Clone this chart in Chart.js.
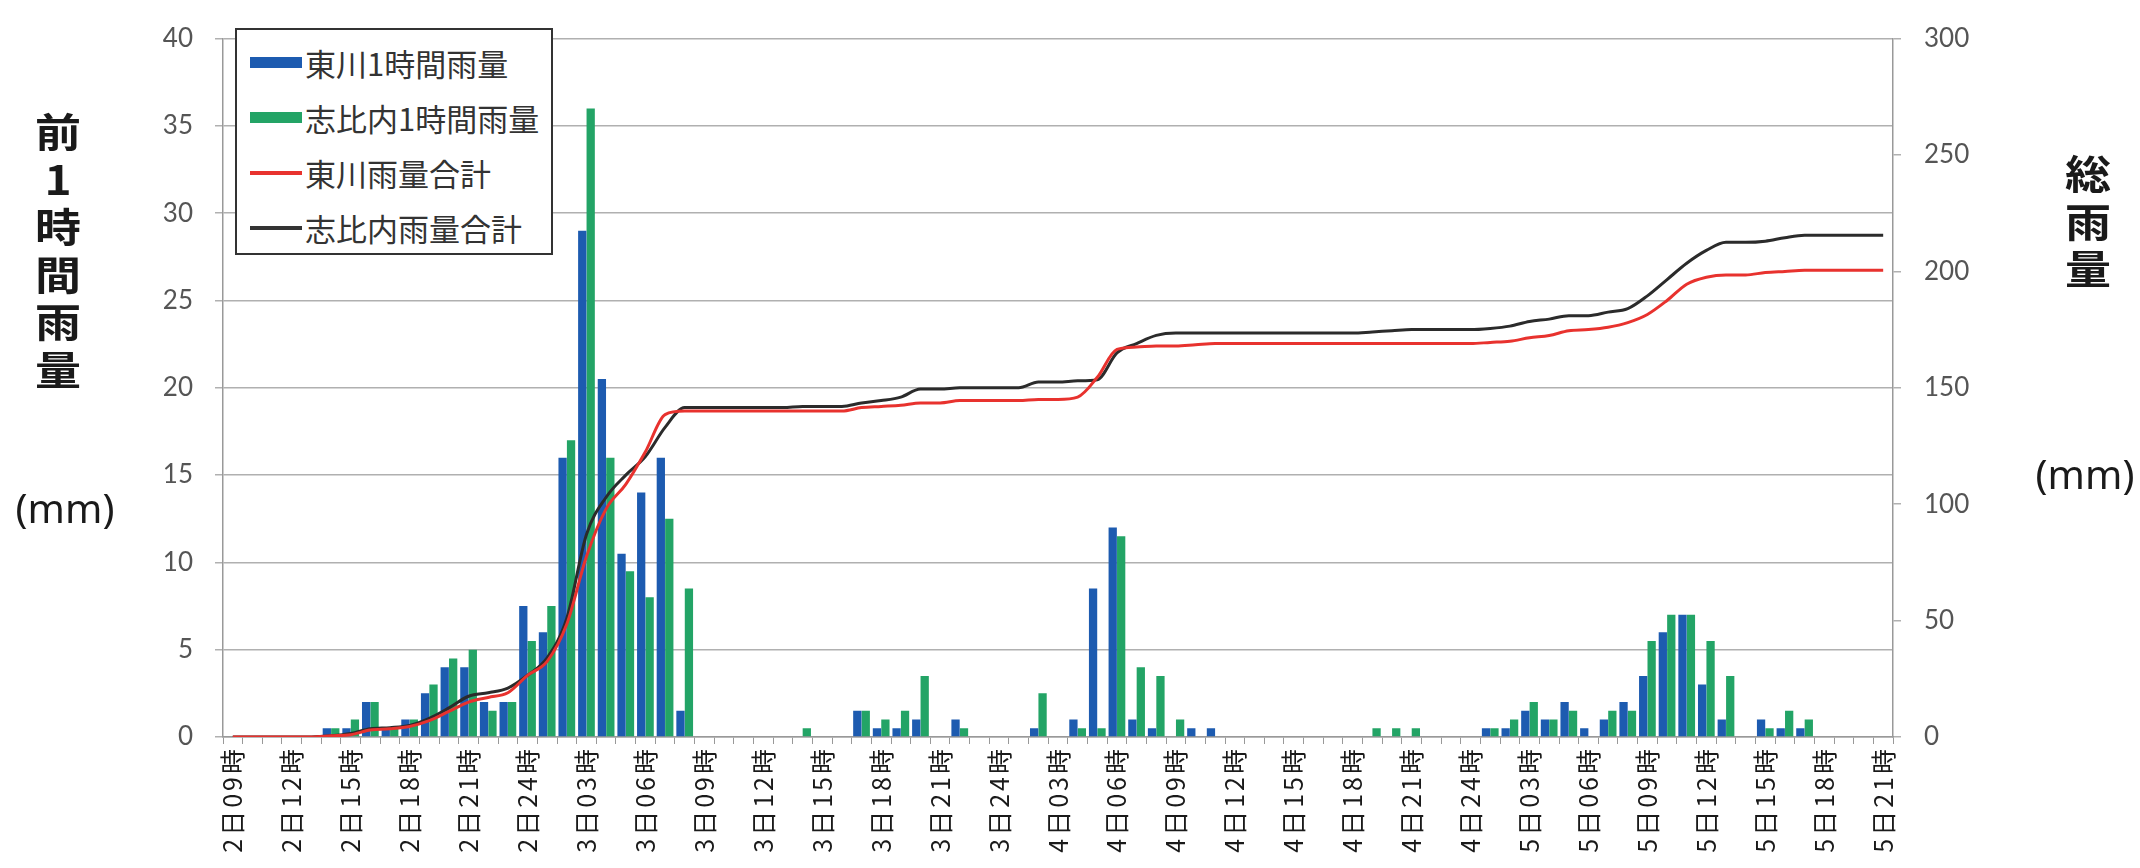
<!DOCTYPE html>
<html lang="ja">
<head>
<meta charset="UTF-8">
<title>前1時間雨量と総雨量</title>
<style>
    body {
        margin: 0;
        background: #ffffff;
    }
    #wrap {
        position: relative;
        width: 2140px;
        height: 868px;
        background: #ffffff;
        overflow: hidden;
    }
    #chart {
        position: absolute;
        left: 0;
        top: 0;
    }
    .vtitle {
        position: absolute;
        font-family: "Noto Sans CJK JP", sans-serif;
        font-weight: bold;
        font-size: 40px;
        line-height: 47.5px;
        color: #1a1a1a;
        text-align: center;
        width: 80px;
        transform: scaleX(1.15);
    }
    .unit {
        position: absolute;
        font-family: "Noto Sans", sans-serif;
        font-size: 40px;
        line-height: 48px;
        color: #1a1a1a;
        width: 120px;
        text-align: center;
    }
    #legend {
        position: absolute;
        left: 235px;
        top: 28px;
        width: 318px;
        height: 227px;
        box-sizing: border-box;
        border: 2px solid #333;
        background: #ffffff;
        padding-top: 5px;
    }
    .row {
        display: flex;
        align-items: center;
        height: 55px;
        padding-left: 13px;
        font-family: "Noto Sans CJK JP", sans-serif;
        font-size: 31px;
        color: #333;
    }
    .sw {
        width: 52px;
        margin-right: 3px;
    }
</style>
</head>
<body>
<div id="wrap">
    <canvas id="chart" width="2140" height="868"></canvas>

    <div class="vtitle" style="left:18px; top:107px;">前<br>1<br>時<br>間<br>雨<br>量</div>
    <div class="unit" style="left:5px; top:484px;">(mm)</div>

    <div class="vtitle" style="left:2048px; top:149px;">総<br>雨<br>量</div>
    <div class="unit" style="left:2025px; top:450px;">(mm)</div>

    <div id="legend">
        <div class="row"><span class="sw" style="height:11px; background:#1d5bb0;"></span>東川1時間雨量</div>
        <div class="row"><span class="sw" style="height:11px; background:#23a466;"></span>志比内1時間雨量</div>
        <div class="row"><span class="sw" style="height:4px; background:#e8322e;"></span>東川雨量合計</div>
        <div class="row"><span class="sw" style="height:4px; background:#333333;"></span>志比内雨量合計</div>
    </div>
</div>

<script src="https://cdn.jsdelivr.net/npm/chart.js"></script>
<script>
    // hourly categories, 2日09時 .. 5日21時
    var hourLabels = [
        '2日09時', '2日10時', '2日11時', '2日12時', '2日13時', '2日14時', '2日15時', '2日16時',
        '2日17時', '2日18時', '2日19時', '2日20時', '2日21時', '2日22時', '2日23時', '2日24時',
        '3日01時', '3日02時', '3日03時', '3日04時', '3日05時', '3日06時', '3日07時', '3日08時',
        '3日09時', '3日10時', '3日11時', '3日12時', '3日13時', '3日14時', '3日15時', '3日16時',
        '3日17時', '3日18時', '3日19時', '3日20時', '3日21時', '3日22時', '3日23時', '3日24時',
        '4日01時', '4日02時', '4日03時', '4日04時', '4日05時', '4日06時', '4日07時', '4日08時',
        '4日09時', '4日10時', '4日11時', '4日12時', '4日13時', '4日14時', '4日15時', '4日16時',
        '4日17時', '4日18時', '4日19時', '4日20時', '4日21時', '4日22時', '4日23時', '4日24時',
        '5日01時', '5日02時', '5日03時', '5日04時', '5日05時', '5日06時', '5日07時', '5日08時',
        '5日09時', '5日10時', '5日11時', '5日12時', '5日13時', '5日14時', '5日15時', '5日16時',
        '5日17時', '5日18時', '5日19時', '5日20時', '5日21時'
    ];

    // 東川 1時間雨量 (mm)
    var higashikawaHourly = [
        0, 0, 0, 0, 0, 0.5, 0.5, 2, 0.5, 1, 2.5, 4, 4, 2, 2, 7.5,
        6, 16, 29, 20.5, 10.5, 14, 16, 1.5, 0, 0, 0, 0, 0, 0, 0, 0,
        1.5, 0.5, 0.5, 1, 0, 1, 0, 0,
        0, 0.5, 0, 1, 8.5, 12, 1, 0.5, 0, 0.5, 0.5, 0, 0, 0, 0, 0,
        0, 0, 0, 0, 0, 0, 0, 0,
        0.5, 0.5, 1.5, 1, 2, 0.5, 1, 2, 3.5, 6, 7, 3, 1, 0, 1, 0.5,
        0.5, 0, 0, 0, 0
    ];

    // 志比内 1時間雨量 (mm)
    var shibinaiHourly = [
        0, 0, 0, 0, 0, 0.5, 1, 2, 0.5, 1, 3, 4.5, 5, 1.5, 2, 5.5,
        7.5, 17, 36, 16, 9.5, 8, 12.5, 8.5, 0, 0, 0, 0, 0, 0.5, 0, 0,
        1.5, 1, 1.5, 3.5, 0, 0.5, 0, 0,
        0, 2.5, 0, 0.5, 0.5, 11.5, 4, 3.5, 1, 0, 0, 0, 0, 0, 0, 0,
        0, 0, 0.5, 0.5, 0.5, 0, 0, 0,
        0.5, 1, 2, 1, 1.5, 0, 1.5, 1.5, 5.5, 7, 7, 5.5, 3.5, 0, 0.5, 1.5,
        1, 0, 0, 0, 0
    ];

    // 東川 雨量合計 (mm)
    var higashikawaTotal = [
        0, 0, 0, 0, 0, 0.5, 1, 3, 3.5, 4.5, 7, 11, 15, 17, 19, 26.5,
        32.5, 48.5, 77.5, 98, 108.5, 122.5, 138.5, 140, 140, 140, 140, 140, 140, 140, 140, 140,
        141.5, 142, 142.5, 143.5, 143.5, 144.5, 144.5, 144.5,
        144.5, 145, 145, 146, 154.5, 166.5, 167.5, 168, 168, 168.5, 169, 169, 169, 169, 169, 169,
        169, 169, 169, 169, 169, 169, 169, 169,
        169.5, 170, 171.5, 172.5, 174.5, 175, 176, 178, 181.5, 187.5, 194.5, 197.5, 198.5, 198.5, 199.5, 200,
        200.5, 200.5, 200.5, 200.5, 200.5
    ];

    // 志比内 雨量合計 (mm)
    var shibinaiTotal = [
        0, 0, 0, 0, 0, 0.5, 1.5, 3.5, 4, 5, 8, 12.5, 17.5, 19, 21, 26.5,
        34, 51, 87, 103, 112.5, 120.5, 133, 141.5, 141.5, 141.5, 141.5, 141.5, 141.5, 142, 142, 142,
        143.5, 144.5, 146, 149.5, 149.5, 150, 150, 150,
        150, 152.5, 152.5, 153, 153.5, 165, 169, 172.5, 173.5, 173.5, 173.5, 173.5, 173.5, 173.5, 173.5, 173.5,
        173.5, 173.5, 174, 174.5, 175, 175, 175, 175,
        175.5, 176.5, 178.5, 179.5, 181, 181, 182.5, 184, 189.5, 196.5, 203.5, 209, 212.5, 212.5, 213, 214.5,
        215.5, 215.5, 215.5, 215.5, 215.5
    ];

    // a little extra spacing on the rotated time labels, like the original
    var spacedTicks = {
        id: 'spacedTicks',
        beforeDraw: function (chart) {
            var sc = chart.scales.x;
            if (sc.__spaced) return;
            var orig = sc.drawLabels;
            sc.drawLabels = function (area) {
                var c = this.ctx;
                c.save();
                if ('letterSpacing' in c) c.letterSpacing = '3px';
                orig.call(this, area);
                c.restore();
            };
            sc.__spaced = true;
        }
    };

    var numFont = { family: 'Lato, sans-serif', size: 26 };

    var ctx = document.getElementById('chart').getContext('2d');
    var chart = new Chart(ctx, {
        type: 'bar',
        data: {
            labels: hourLabels,
            datasets: [
                {
                    type: 'line',
                    label: '東川雨量合計',
                    data: higashikawaTotal,
                    yAxisID: 'y1',
                    borderColor: '#e8322e',
                    borderWidth: 3,
                    pointRadius: 0,
                    cubicInterpolationMode: 'monotone',
                    order: 0
                },
                {
                    type: 'line',
                    label: '志比内雨量合計',
                    data: shibinaiTotal,
                    yAxisID: 'y1',
                    borderColor: '#2b2b2b',
                    borderWidth: 3,
                    pointRadius: 0,
                    cubicInterpolationMode: 'monotone',
                    order: 1
                },
                {
                    label: '東川1時間雨量',
                    data: higashikawaHourly,
                    yAxisID: 'y',
                    backgroundColor: '#1d5bb0',
                    categoryPercentage: 0.86,
                    barPercentage: 0.98,
                    order: 2
                },
                {
                    label: '志比内1時間雨量',
                    data: shibinaiHourly,
                    yAxisID: 'y',
                    backgroundColor: '#23a466',
                    categoryPercentage: 0.86,
                    barPercentage: 0.98,
                    order: 2
                }
            ]
        },
        options: {
            responsive: false,
            animation: false,
            devicePixelRatio: 1,
            layout: { padding: { top: 23, right: 0, bottom: 0, left: 0 } },
            plugins: {
                legend: { display: false },
                tooltip: { enabled: false }
            },
            scales: {
                x: {
                    grid: {
                        display: true,
                        drawOnChartArea: false,
                        drawTicks: true,
                        tickLength: 7,
                        color: '#999',
                        offset: true
                    },
                    border: { display: true, color: '#999', width: 1.5 },
                    ticks: {
                        autoSkip: false,
                        maxRotation: 90,
                        minRotation: 90,
                        padding: 2,
                        color: '#1a1a1a',
                        font: { family: "'Noto Sans CJK JP', sans-serif", size: 25 },
                        callback: function (v, i) {
                            return i % 3 === 0 ? hourLabels[i] : '';
                        }
                    },
                    afterFit: function (s) { s.height = 131; }
                },
                y: {
                    position: 'left',
                    min: 0,
                    max: 40,
                    ticks: { stepSize: 5, padding: 22, color: '#555', font: numFont },
                    grid: { color: '#b0b0b0', lineWidth: 1.5, tickLength: 8 },
                    border: { display: true, color: '#999', width: 1.5 },
                    afterFit: function (s) { s.width = 223; }
                },
                y1: {
                    position: 'right',
                    min: 0,
                    max: 300,
                    ticks: { stepSize: 50, padding: 23, color: '#555', font: numFont },
                    grid: { drawOnChartArea: false, color: '#b0b0b0', lineWidth: 1.5, tickLength: 8 },
                    border: { display: true, color: '#999', width: 1.5 },
                    afterFit: function (s) { s.width = 247; }
                }
            }
        },
        plugins: [spacedTicks]
    });
    chart.render();
</script>
</body>
</html>
